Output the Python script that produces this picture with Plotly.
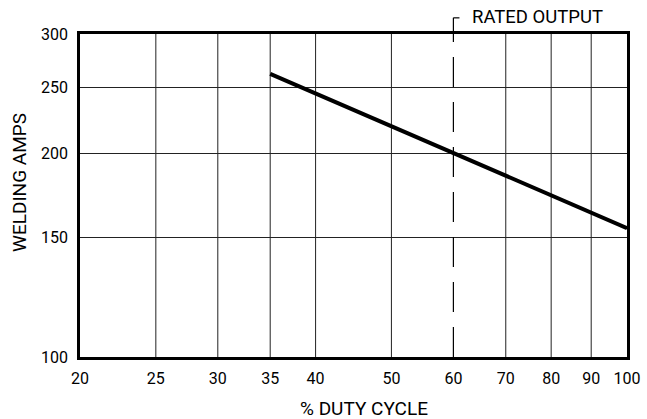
import math
import plotly.graph_objects as go

# Data
duty_cycle = [35, 60, 100]          # % duty cycle
welding_amps = [262, 200, 155]      # amps
rated_duty = 60
x_ticks = [20, 25, 30, 35, 40, 50, 60, 70, 80, 90, 100]
y_ticks = [100, 150, 200, 250, 300]
x_range = [20, 100]
y_range = [100, 300]

FONT = "Roboto, Liberation Sans, sans-serif"

fig = go.Figure()
fig.add_trace(go.Scatter(x=duty_cycle, y=welding_amps, mode="lines",
                         line=dict(color="black", width=4), showlegend=False,
                         hoverinfo="skip"))

shapes = []
# vertical gridlines (none at the rated output, which gets a dashed line)
for v in x_ticks:
    if v in (x_range[0], x_range[1], rated_duty):
        continue
    shapes.append(dict(type="line", xref="x", yref="paper", x0=v, x1=v, y0=0, y1=1,
                       line=dict(color="#222", width=1), layer="below"))
TOP = 1.05
# rated output dashed line extending above plot
shapes.append(dict(type="line", xref="x", yref="paper", x0=rated_duty, x1=rated_duty,
                   y0=0, y1=TOP, line=dict(color="black", width=1.2, dash="30px,15px")))
shapes.append(dict(type="line", xref="x", yref="paper", x0=rated_duty, x1=rated_duty * 1.018,
                   y0=TOP, y1=TOP, line=dict(color="black", width=1.2)))

fig.update_layout(
    width=647, height=419,
    margin=dict(l=80, r=20, t=34, b=62),
    paper_bgcolor="white", plot_bgcolor="white",
    font=dict(family=FONT, size=16, color="black"),
    shapes=shapes,
    annotations=[
        dict(x=math.log10(rated_duty), xref="x", y=TOP, yref="paper", xshift=17, yshift=1,
             text="RATED OUTPUT", showarrow=False, xanchor="left", yanchor="middle",
             font=dict(family=FONT, size=18.5, color="black")),
        dict(x=0.519, y=-0.158, xref="paper", yref="paper", text="% DUTY CYCLE",
             showarrow=False, xanchor="center", yanchor="middle",
             font=dict(family=FONT, size=19, color="black")),
        dict(x=-0.1097, y=0.542, xref="paper", yref="paper", text="WELDING AMPS",
             showarrow=False, xanchor="center", yanchor="middle", textangle=-90,
             font=dict(family=FONT, size=19, color="black")),
    ],
    xaxis=dict(type="log", range=[math.log10(x_range[0]), math.log10(x_range[1])],
               tickvals=x_ticks, ticktext=[str(v) for v in x_ticks],
               showgrid=False, showline=True, linecolor="black", linewidth=2.5, mirror=True,
               ticks="", zeroline=False, ticklabelstandoff=5, automargin=False),
    yaxis=dict(type="log", range=[math.log10(y_range[0]), math.log10(y_range[1])],
               tickvals=y_ticks, ticktext=[str(v) for v in y_ticks],
               showgrid=True, gridcolor="#222", gridwidth=1,
               showline=True, linecolor="black", linewidth=2.5, mirror=True,
               ticks="", zeroline=False, ticklabelstandoff=6, automargin=False),
)

fig.write_html("out.html", config={"displayModeBar": False},
               post_script="document.body.style.margin='0px';")
